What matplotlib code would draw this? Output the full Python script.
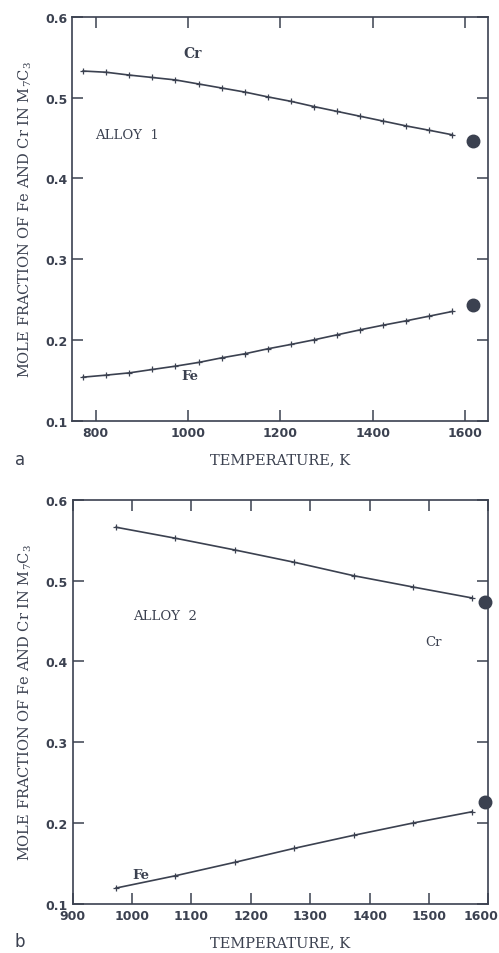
import numpy as np
import matplotlib
matplotlib.use("Agg")
import matplotlib.pyplot as plt
from matplotlib.transforms import ScaledTranslation

# panel a (alloy 1)
temp_a = [773, 823, 873, 923, 973, 1023, 1073, 1123, 1173, 1223, 1273, 1323, 1373, 1423, 1473, 1523, 1573]
cr_a = [0.533, 0.5315, 0.528, 0.525, 0.522, 0.517, 0.512, 0.507, 0.501, 0.4955,
        0.489, 0.483, 0.477, 0.471, 0.465, 0.4596, 0.454]
fe_a = [0.1539, 0.1564, 0.1592, 0.1634, 0.1675, 0.1721, 0.1778, 0.1828, 0.1890, 0.1944,
        0.2001, 0.2063, 0.2125, 0.2183, 0.2237, 0.2295, 0.2353]
dot_temp_a = 1618
dot_cr_a = 0.4467
dot_fe_a = 0.2435

# panel b (alloy 2)
temp_b = [973, 1073, 1173, 1273, 1373, 1473, 1573]
cr_b = [0.5659, 0.5523, 0.5378, 0.5226, 0.506, 0.492, 0.4784]
fe_b = [0.1197, 0.1349, 0.1515, 0.1688, 0.1849, 0.2001, 0.2141]
dot_temp_b = 1594
dot_cr_b = 0.4735
dot_fe_b = 0.2257

ink = "#3b4150"
serif = "DejaVu Serif"

fig = plt.figure(figsize=(4.99, 9.54), dpi=100)
ax_a = fig.add_axes([0.1443, 0.558, 0.8337, 0.4232])
ax_b = fig.add_axes([0.1457, 0.0514, 0.8329, 0.4238])


def style(ax, xticks):
    ax.set_ylim(0.1, 0.6)
    ax.set_yticks([0.1, 0.2, 0.3, 0.4, 0.5, 0.6])
    ax.set_yticklabels(["0.1", "0.2", "0.3", "0.4", "0.5", "0.6"])
    ax.set_xticks(xticks)
    ax.tick_params(direction="in", length=8, width=1.1, color=ink, top=True, right=True,
                   labelsize=9, labelcolor=ink)
    for lab in ax.get_xticklabels() + ax.get_yticklabels():
        lab.set_fontweight("bold")
    for s in ax.spines.values():
        s.set_color(ink)
        s.set_linewidth(1.2)
    ax.set_xlabel("TEMPERATURE, K", fontfamily=serif, fontsize=10.5, color=ink, labelpad=10)


def draw(ax, t, cr, fe, dt, dcr, dfe):
    ax.plot(t, cr, color=ink, lw=1.2, marker="+", ms=5, mew=0.9)
    ax.plot(t, fe, color=ink, lw=1.2, marker="+", ms=5, mew=0.9)
    ax.plot([dt, dt], [dcr, dfe], ls="none", marker="o", ms=9, color=ink, clip_on=False)


draw(ax_a, temp_a, cr_a, fe_a, dot_temp_a, dot_cr_a, dot_fe_a)
style(ax_a, [800, 1000, 1200, 1400, 1600])
ax_a.set_xlim(749, 1650)
ax_a.text(1010, 0.555, "Cr", fontfamily=serif, fontsize=10, fontweight="bold", color=ink, ha="center", va="center")
ax_a.text(800, 0.455, "ALLOY  1", fontfamily=serif, fontsize=9.5, color=ink, ha="left", va="center")
ax_a.text(1005, 0.1555, "Fe", fontfamily=serif, fontsize=9.5, fontweight="bold", color=ink, ha="center", va="center")

draw(ax_b, temp_b, cr_b, fe_b, dot_temp_b, dot_cr_b, dot_fe_b)
style(ax_b, [900, 1000, 1100, 1200, 1300, 1400, 1500, 1600])
ax_b.set_xlim(900, 1600)
ax_b.text(1001, 0.457, "ALLOY  2", fontfamily=serif, fontsize=9.5, color=ink, ha="left", va="center")
ax_b.text(1508, 0.425, "Cr", fontfamily=serif, fontsize=9.5, color=ink, ha="center", va="center")
ax_b.text(1001, 0.137, "Fe", fontfamily=serif, fontsize=9.5, fontweight="bold", color=ink, ha="left", va="center")

# keep the last tick label of panel b inside the figure
last = ax_b.get_xticklabels()[-1]
last.set_transform(last.get_transform() + ScaledTranslation(-7 / 100, 0, fig.dpi_scale_trans))

ylab = "MOLE FRACTION OF Fe AND Cr IN M$_\\mathregular{7}$C$_\\mathregular{3}$"
for ax in (ax_a, ax_b):
    ax.set_ylabel(ylab, fontfamily=serif, fontsize=10.5, color=ink, labelpad=8)

fig.text(15 / 499, 1 - 460 / 954, "a", fontsize=12, color=ink, va="center")
fig.text(15 / 499, 1 - 942 / 954, "b", fontsize=12, color=ink, va="center")

fig.savefig("out.png", dpi=100)
